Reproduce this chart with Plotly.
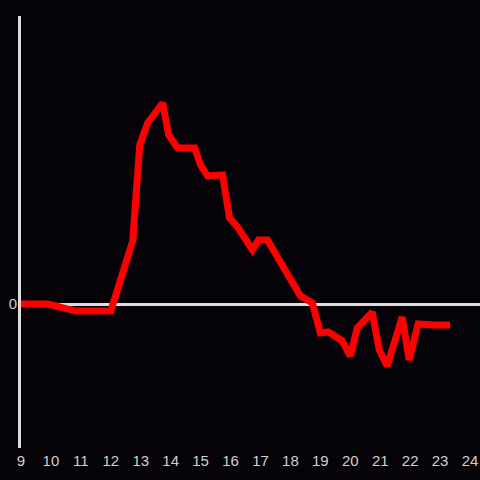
import plotly.graph_objects as go

hours = [9.0, 9.9, 10.833, 12.0, 12.733, 12.967, 13.233, 13.733, 13.933, 14.233,
         14.8, 15.0, 15.233, 15.733, 15.967, 16.233, 16.733, 16.933, 17.233, 17.767,
         18.333, 18.733, 19.0, 19.267, 19.733, 20.0, 20.233, 20.733, 20.967, 21.233,
         21.733, 21.967, 22.267, 22.8, 23.333]
values = [0, 0, -4.9, -4.9, 43.8, 110.4, 125.7, 139.6, 117.4, 108.3,
          108.3, 96.5, 88.9, 89.6, 59.7, 53.5, 37.5, 44.4, 44.4, 26.4,
          5.6, 0.7, -20.1, -19.4, -25.7, -36.1, -16.7, -5.6, -31.9, -43.1,
          -9.0, -38.9, -13.9, -14.6, -14.6]
x_ticks = list(range(9, 25))

fig = go.Figure()
fig.add_trace(go.Scatter(x=hours, y=values, mode="lines",
                         line=dict(color="#ff0000", width=7),
                         showlegend=False, hoverinfo="skip"))

bg = "#050307"
fig.update_layout(
    width=480, height=480,
    paper_bgcolor=bg, plot_bgcolor=bg,
    margin=dict(l=21, r=0, t=16, b=32, autoexpand=False),
    font=dict(family="Liberation Sans, Arial, sans-serif", size=15, color="#d0d0d0"),
    xaxis=dict(range=[9, 24.333], tickmode="array", tickvals=x_ticks,
               ticktext=[str(t) for t in x_ticks], showgrid=False,
               zeroline=False, showline=False, ticks="", automargin=False,
               ticklabelstandoff=2),
    yaxis=dict(range=[-100, 200], tickmode="array", tickvals=[0], ticktext=["0"],
               showgrid=False, zeroline=True, zerolinecolor="#dedede",
               zerolinewidth=3, showline=True, linecolor="#dedede", linewidth=3,
               ticks="", ticklabelstandoff=-2, automargin=False),
)
fig.write_html("out.html", config={"displayModeBar": False},
               post_script="document.body.style.margin='0';document.body.style.background='%s';" % bg)
